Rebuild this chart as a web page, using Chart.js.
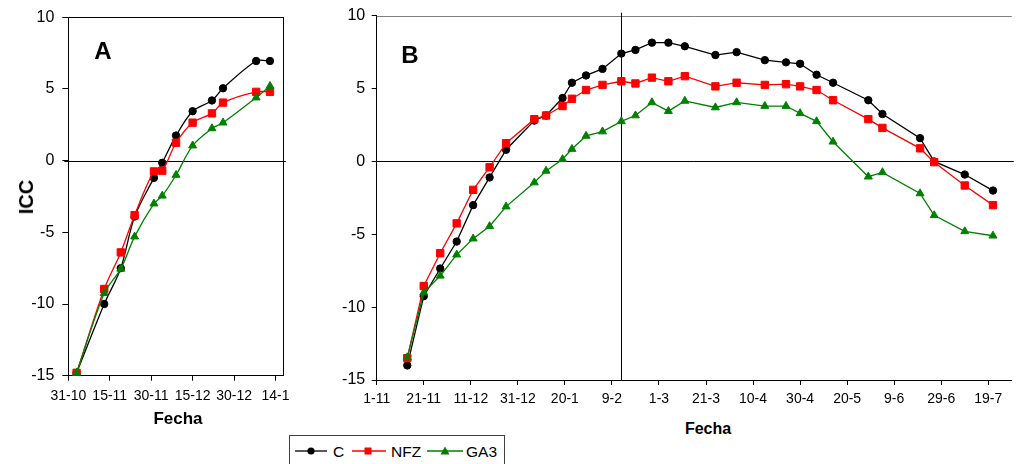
<!DOCTYPE html>
<html lang="es">
<head>
<meta charset="UTF-8">
<title>ICC</title>
<script src="https://cdn.jsdelivr.net/npm/chart.js"></script>
<style>
  body { margin: 0; width: 1018px; height: 464px; position: relative; overflow: hidden; background: #fff;
         font-family: "Liberation Sans", Arial, sans-serif; color: #000; }
  #wrapA { position: absolute; left: 0; top: 0; width: 290px; height: 410px; }
  #wrapB { position: absolute; left: 330px; top: 0; width: 688px; height: 410px; }
  .lbl { position: absolute; font-weight: bold; line-height: 1; transform: translate(-50%, -50%); white-space: nowrap; }
  #legend { position: absolute; left: 0; top: 0; }
</style>
</head>
<body>
<div id="wrapA"><canvas id="chartA" width="290" height="410"></canvas></div>
<div id="wrapB"><canvas id="chartB" width="688" height="410"></canvas></div>

<div class="lbl" style="left:103px; top:51px; font-size:24px;">A</div>
<div class="lbl" style="left:410px; top:55px; font-size:24px;">B</div>
<div class="lbl" style="left:26px; top:197px; font-size:20px; transform: translate(-50%, -50%) rotate(-90deg);">ICC</div>
<div class="lbl" style="left:178px; top:418px; font-size:17px;">Fecha</div>
<div class="lbl" style="left:708px; top:429px; font-size:16px;">Fecha</div>

<svg id="legend" width="1018" height="464">
  <rect x="289.5" y="435.5" width="215" height="40" fill="#fff" stroke="#404040" stroke-width="1"/>
  <line x1="295" y1="451" x2="327" y2="451" stroke="#000" stroke-width="1.3"/>
  <circle cx="311" cy="451" r="3.6" fill="#000"/>
  <text x="333" y="456.5" font-size="15.5" font-family="Liberation Sans, Arial, sans-serif">C</text>
  <line x1="352" y1="451" x2="386" y2="451" stroke="#ff0000" stroke-width="1.3"/>
  <rect x="364.5" y="447.5" width="7" height="7" fill="#ff0000"/>
  <text x="391" y="456.5" font-size="15.5" font-family="Liberation Sans, Arial, sans-serif">NFZ</text>
  <line x1="427" y1="451" x2="463" y2="451" stroke="#008000" stroke-width="1.3"/>
  <polygon points="445,446.5 449.5,454.5 440.5,454.5" fill="#008000"/>
  <text x="466" y="456.5" font-size="15.5" font-family="Liberation Sans, Arial, sans-serif">GA3</text>
</svg>

<script>
// ---- datos panel A (días desde 31-10) ----
const daysA = [3, 13, 19, 24, 31, 34, 39, 45, 52, 56, 68, 73];
const cA    = [-14.8, -10.0, -7.5, -3.9, -1.2, -0.15, 1.75, 3.45, 4.2, 5.05, 6.95, 6.95];
const nfzA  = [-14.8, -8.95, -6.4, -3.8, -0.75, -0.7, 1.25, 2.65, 3.3, 4.05, 4.8, 4.8];
const ga3A  = [-14.8, -9.25, -7.55, -5.3, -3.0, -2.45, -1.0, 1.05, 2.25, 2.65, 4.4, 5.2];
const tickDaysA   = [0, 15, 30, 45, 60, 75];
const tickLabelsA = ['31-10', '15-11', '30-11', '15-12', '30-12', '14-1'];

// ---- datos panel B (días desde 1-11) ----
const daysB = [13, 20, 27, 34, 41, 48, 55, 67, 72, 79, 83, 89, 96, 104, 110, 117, 124, 131, 144, 153,
               165, 174, 180, 187, 194, 209, 215, 231, 237, 250, 262];
const cB   = [-14.0, -9.25, -7.35, -5.5, -3.0, -1.1, 0.8, 2.8, 3.15, 4.35, 5.4, 5.9, 6.35, 7.4, 7.65, 8.15, 8.15, 7.9, 7.3, 7.5,
              6.95, 6.8, 6.7, 5.95, 5.4, 4.2, 3.25, 1.6, 0.0, -0.9, -2.0];
const nfzB = [-13.5, -8.55, -6.3, -4.25, -1.95, -0.4, 1.25, 2.9, 3.15, 3.8, 4.3, 4.9, 5.25, 5.5, 5.35, 5.75, 5.5, 5.85, 5.15, 5.4,
              5.25, 5.3, 5.15, 4.9, 4.2, 2.9, 2.3, 0.9, -0.05, -1.65, -3.0];
const ga3B = [-13.45, -9.0, -7.85, -6.4, -5.3, -4.45, -3.1, -1.45, -0.65, 0.15, 0.85, 1.75, 2.05, 2.75, 3.15, 4.05, 3.45, 4.15, 3.7, 4.05,
              3.8, 3.8, 3.3, 2.75, 1.35, -1.05, -0.75, -2.2, -3.7, -4.8, -5.1];
const tickDaysB   = [0, 20, 40, 60, 80, 100, 120, 140, 160, 180, 200, 220, 240, 260];
const tickLabelsB = ['1-11', '21-11', '11-12', '31-12', '20-1', '9-2', '1-3', '21-3', '10-4', '30-4', '20-5', '9-6', '29-6', '19-7'];
const crossDayB = 103.7; // linea vertical del eje

const yTicks = [-15, -10, -5, 0, 5, 10];

Chart.defaults.font.family = '"Liberation Sans", Arial, sans-serif';
Chart.defaults.color = '#000';

function serie(label, days, vals, color, shape, radius, tension) {
  return {
    label: label,
    data: days.map((d, i) => ({ x: d, y: vals[i] })),
    borderColor: color,
    backgroundColor: color,
    borderWidth: 1.3,
    pointStyle: shape,
    pointRadius: radius,
    pointHoverRadius: radius,
    pointBorderWidth: 1,
    tension: tension
  };
}

// ejes extra: linea del cero, marco, linea vertical
const marco = {
  id: 'marco',
  beforeDatasetsDraw(chart, args, o) {
    const { ctx, chartArea: a, scales: { x, y } } = chart;
    ctx.save();
    ctx.lineWidth = 1;
    const seg = (x1, y1, x2, y2, c) => {
      ctx.strokeStyle = c;
      ctx.beginPath(); ctx.moveTo(x1, y1); ctx.lineTo(x2, y2); ctx.stroke();
    };
    const y0 = Math.round(y.getPixelForValue(0)) + 0.5;
    seg(a.left - 4, y0, a.right + 2, y0, '#000');
    seg(a.left, Math.round(a.top) + 0.5, a.right, Math.round(a.top) + 0.5, o.topColor);
    if (o.right) seg(Math.round(a.right) - 0.5, a.top, Math.round(a.right) - 0.5, a.bottom, '#000');
    if (o.vDay != null) {
      const vx = Math.round(x.getPixelForValue(o.vDay)) + 0.5;
      seg(vx, a.top - 3, vx, a.bottom, '#000');
    }
    ctx.restore();
  }
};

function panel(id, sets, xr, ticksX, labelsX, dims, extra) {
  return new Chart(document.getElementById(id), {
    type: 'line',
    data: { datasets: sets },
    plugins: [marco],
    options: {
      responsive: false,
      animation: false,
      events: [],
      layout: { padding: dims.pad },
      plugins: { legend: { display: false }, tooltip: { enabled: false }, marco: extra },
      scales: {
        x: {
          type: 'linear', min: xr[0], max: xr[1],
          afterBuildTicks: s => { s.ticks = ticksX.map(v => ({ value: v })); },
          afterFit: s => { s.height = dims.xh; s.paddingLeft = 0; s.paddingRight = 0; },
          ticks: { autoSkip: false, maxRotation: 0, padding: dims.xpad, font: { size: 14 },
                   callback: (v, i) => labelsX[i] },
          grid: { drawOnChartArea: false, tickLength: 5, color: '#000' },
          border: { color: '#000', width: 1 }
        },
        y: {
          min: -15, max: 10,
          afterBuildTicks: s => { s.ticks = yTicks.map(v => ({ value: v })); },
          afterFit: s => { s.width = dims.yw; s.paddingTop = 0; s.paddingBottom = 0; },
          ticks: { padding: dims.ypad, font: { size: 16 } },
          grid: { drawOnChartArea: false, tickLength: dims.ytl, color: '#000' },
          border: { color: '#000', width: 1 }
        }
      }
    }
  });
}

panel('chartA', [
  serie('GA3', daysA, ga3A, '#008000', 'triangle', 4.6, 0.3),
  serie('NFZ', daysA, nfzA, '#ff0000', 'rect', 5.2, 0.3),
  serie('C',   daysA, cA,   '#000000', 'circle', 3.7, 0.3)
], [0, 78], tickDaysA, tickLabelsA,
  { pad: { left: 0, top: 17.3, right: 2, bottom: 0 }, xh: 34.3, yw: 68.3, xpad: 7, ypad: 8, ytl: 6 },
  { topColor: '#000', right: true });

panel('chartB', [
  serie('GA3', daysB, ga3B, '#008000', 'triangle', 4.6, 0),
  serie('NFZ', daysB, nfzB, '#ff0000', 'rect', 5.2, 0),
  serie('C',   daysB, cB,   '#000000', 'circle', 3.7, 0)
], [0, 270], tickDaysB, tickLabelsB,
  { pad: { left: 0, top: 15.7, right: 0, bottom: 0 }, xh: 30, yw: 46.7, xpad: 6, ypad: 6.5, ytl: 5 },
  { topColor: '#808080', right: false, vDay: crossDayB });
</script>
</body>
</html>
